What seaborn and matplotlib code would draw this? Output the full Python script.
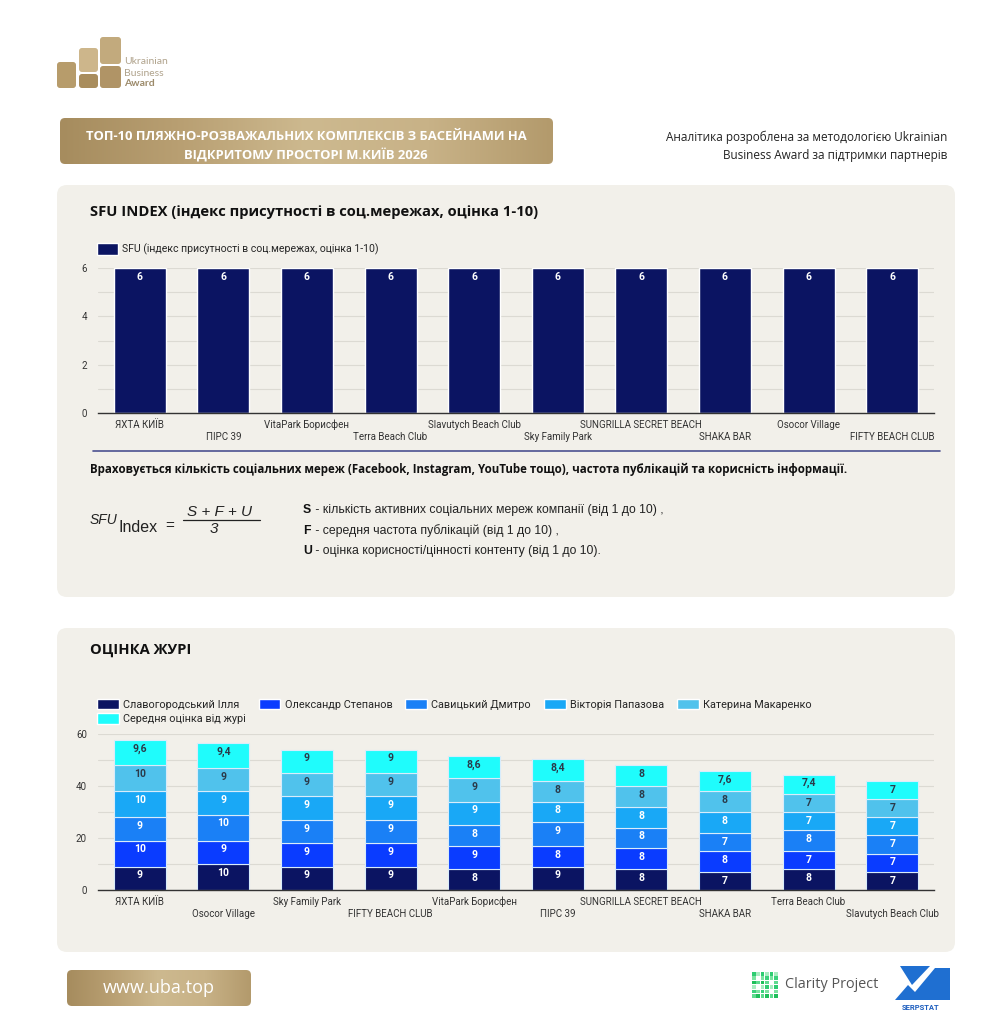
import numpy as np
import pandas as pd
import matplotlib.pyplot as plt
import seaborn as sns
from matplotlib.patches import FancyBboxPatch, Rectangle, Patch, Polygon
from matplotlib.lines import Line2D
from matplotlib.colors import LinearSegmentedColormap

# ---- data ----
sfu_names = ["ЯХТА КИЇВ", "ПІРС 39", "VitaPark Борисфен", "Terra Beach Club",
             "Slavutych Beach Club", "Sky Family Park", "SUNGRILLA SECRET BEACH",
             "SHAKA BAR", "Osocor Village", "FIFTY BEACH CLUB"]
sfu_values = [6, 6, 6, 6, 6, 6, 6, 6, 6, 6]
sfu_label = "SFU (індекс присутності в соц.мережах, оцінка 1-10)"

jury_names = ["ЯХТА КИЇВ", "Osocor Village", "Sky Family Park", "FIFTY BEACH CLUB",
              "VitaPark Борисфен", "ПІРС 39", "SUNGRILLA SECRET BEACH", "SHAKA BAR",
              "Terra Beach Club", "Slavutych Beach Club"]
jurors = ["Славогородський Ілля", "Олександр Степанов", "Савицький Дмитро",
          "Вікторія Папазова", "Катерина Макаренко", "Середня оцінка від журі"]
slavohorodskyi = [9, 10, 9, 9, 8, 9, 8, 7, 8, 7]
stepanov = [10, 9, 9, 9, 9, 8, 8, 8, 7, 7]
savytskyi = [9, 10, 9, 9, 8, 9, 8, 7, 8, 7]
papazova = [10, 9, 9, 9, 9, 8, 8, 8, 7, 7]
makarenko = [10, 9, 9, 9, 9, 8, 8, 8, 7, 7]
average = [9.6, 9.4, 9, 9, 8.6, 8.4, 8, 7.6, 7.4, 7]

juror_colors = ["#0b1462", "#0a3cff", "#1a80f6", "#19a8f6", "#50c2ec", "#1ffcfc"]
label_colors = ["white", "white", "white", "white", "#2b3a4a", "#2b3a4a"]
navy = "#0b1462"
panel_bg = "#f2f0ea"
grid_c = "#dcdad3"

W, H = 1004, 1024
fig = plt.figure(figsize=(W / 100, H / 100), dpi=100, facecolor="white")
sns.set_style("white")
plt.rcParams["font.family"] = ["Roboto", "DejaVu Sans"]

# background layer in pixel coordinates
bg = fig.add_axes([0, 0, 1, 1], zorder=0)
bg.set_xlim(0, W)
bg.set_ylim(H, 0)
bg.axis("off")

gold_cmap = LinearSegmentedColormap.from_list(
    "gold", ["#a68c5e", "#b9a073", "#cdb98f", "#c8b287", "#b39a6c"])


def gold_box(x0, y0, x1, y1, r):
    box = FancyBboxPatch((x0, y0), x1 - x0, y1 - y0,
                         boxstyle=f"round,pad=0,rounding_size={r}",
                         facecolor="none", edgecolor="none")
    bg.add_patch(box)
    grad = np.vstack([np.linspace(0, 1, 256)] * 2)
    im = bg.imshow(grad, cmap=gold_cmap, extent=[x0, x1, y1, y0], aspect="auto", zorder=1)
    im.set_clip_path(box)


# panels
for y0, y1 in [(185, 597), (628, 952)]:
    bg.add_patch(FancyBboxPatch((57, y0), 898, y1 - y0,
                                boxstyle="round,pad=0,rounding_size=10",
                                facecolor=panel_bg, edgecolor="none", zorder=0.5))

# logo
logo_parts = [
    (57, 62, 19, 26, "#b79c6b"),
    (79, 48, 19, 24, "#cdb68b"),
    (79, 74, 19, 14, "#a98d5d"),
    (100, 37, 21, 27, "#c2aa7d"),
    (100, 66, 21, 22, "#b09466"),
]
for x, y, w, h, c in logo_parts:
    bg.add_patch(FancyBboxPatch((x, y), w, h, boxstyle="round,pad=0,rounding_size=3",
                                facecolor=c, edgecolor="none", zorder=1))
bg.text(124, 62, "Ukrainian", fontsize=7.5, color="#b0a38c", va="center", family="Lato")
bg.text(124, 73, "Business", fontsize=7.5, color="#b0a38c", va="center", family="Lato")
bg.text(124, 84, "Award", fontsize=7.5, color="#9c8a6a", va="center",
        fontweight="bold", family="Lato")

# header
gold_box(60, 118, 553, 164, 5)
bg.text(306, 137, "ТОП-10 ПЛЯЖНО-РОЗВАЖАЛЬНИХ КОМПЛЕКСІВ З БАСЕЙНАМИ НА",
        ha="center", va="center", color="white", fontsize=9.4, fontweight="bold",
        family="Open Sans", zorder=3)
bg.text(306, 155, "ВІДКРИТОМУ ПРОСТОРІ М.КИЇВ 2026",
        ha="center", va="center", color="white", fontsize=9.4, fontweight="bold",
        family="Open Sans", zorder=3)
bg.text(947, 137, "Аналітика розроблена за методологією Ukrainian", ha="right",
        va="center", fontsize=8.5, color="#222222", family="Open Sans")
bg.text(947, 155, "Business Award за підтримки партнерів", ha="right",
        va="center", fontsize=8.5, color="#222222", family="Open Sans")

# panel 1 texts
bg.text(90, 212, "SFU INDEX (індекс присутності в соц.мережах, оцінка 1-10)",
        fontsize=10.6, fontweight="bold", va="center", color="#111111", family="Open Sans")
bg.add_line(Line2D([93, 940], [451, 451], color="#4c5190", lw=1.2, zorder=2))
bg.text(90, 469, "Враховується кількість соціальних мереж (Facebook, Instagram, YouTube тощо), "
        "частота публікацій та корисність інформації.",
        fontsize=8.3, fontweight="bold", va="center", color="#111111", family="Open Sans")

# formula
ff = "Liberation Sans"
bg.text(90, 520, "SFU", fontsize=10, style="italic", va="center", family=ff, color="#222")
bg.text(119, 528, "Index", fontsize=11.5, va="center", family=ff, color="#222")
bg.text(170, 526, "=", fontsize=11, va="center", ha="center", family=ff, color="#222")
bg.text(220, 512, "S + F + U", fontsize=11, style="italic", va="center", ha="center",
        family=ff, color="#222")
bg.add_line(Line2D([183, 260], [520, 520], color="#222", lw=0.9))
bg.text(214, 529, "3", fontsize=11, style="italic", va="center", ha="center",
        family=ff, color="#222")
expl = [("S", " - кількість активних соціальних мереж компанії (від 1 до 10) ,", 510),
        ("F", " - середня частота публікацій (від 1 до 10) ,", 531),
        ("U", " - оцінка корисності/цінності контенту (від 1 до 10).", 551)]
for letter, rest, y in expl:
    bg.text(303, y, letter, fontsize=8.8, fontweight="bold", va="center", family=ff, color="#111")
    bg.text(312, y, rest, fontsize=8.8, va="center", family=ff, color="#222")

# panel 2 title
bg.text(90, 650, "ОЦІНКА ЖУРІ", fontsize=10.6, fontweight="bold", va="center",
        color="#111111", family="Open Sans")

# footer
gold_box(67, 970, 251, 1006, 5)
bg.text(159, 988, "www.uba.top", ha="center", va="center", color="white", fontsize=13,
        family="Open Sans", zorder=3)
greens = ["#2ecc71", "#7be3a0", "#1fbf5a", "#a8edc0", "#3ad17a", "#5edb8f"]
for i in range(6):
    for j in range(6):
        if j in (1, 4) and 1 <= i <= 4 and (i + j) % 2 == 0:
            continue
        bg.add_patch(Rectangle((752 + j * 4.4, 972 + i * 4.4), 3.6, 3.6,
                               facecolor=greens[(i * 7 + j * 3) % 6], edgecolor="none"))
bg.text(785, 985, "Clarity Project", fontsize=10.4, va="center", color="#555555",
        family="Open Sans")
bg.add_patch(Polygon([[895, 1000], [908, 985], [915, 992], [935, 968], [950, 968],
                      [950, 1000]], closed=True, facecolor="#1f6fd1", edgecolor="none"))
bg.add_patch(Polygon([[900, 966], [930, 966], [912, 985]], closed=True,
                     facecolor="#1f6fd1", edgecolor="none"))
bg.text(921, 1007, "SERPSTAT", fontsize=5.5, fontweight="bold", ha="center", va="center",
        color="#1f5fbf", family="Roboto")


def px_axes(x0, y0, x1, y1):
    return fig.add_axes([x0 / W, 1 - y1 / H, (x1 - x0) / W, (y1 - y0) / H], zorder=2)


# ---- SFU chart ----
sfu_df = pd.DataFrame({"name": sfu_names, "sfu": sfu_values})
ax1 = px_axes(98, 268, 934, 413)
ax1.set_facecolor("none")
sns.barplot(data=sfu_df, x="name", y="sfu", color=navy, saturation=1, width=0.62, ax=ax1)
ax1.bar_label(ax1.containers[0], padding=-10, color="white", fontsize=7.5, fontweight="bold")
ax1.set_ylim(0, 6)
ax1.set_xlim(-0.5, len(sfu_names) - 0.5)
ax1.set_yticks([0, 2, 4, 6])
ax1.set_yticks([1, 3, 5], minor=True)
ax1.grid(axis="y", which="both", color=grid_c, lw=0.8)
ax1.set_axisbelow(True)
ax1.set_xticks(range(len(sfu_names)))
ax1.set_xticklabels([n if i % 2 == 0 else "\n" + n for i, n in enumerate(sfu_names)])

# ---- jury chart ----
jury_df = pd.DataFrame({"name": jury_names, jurors[0]: slavohorodskyi, jurors[1]: stepanov,
                        jurors[2]: savytskyi, jurors[3]: papazova, jurors[4]: makarenko,
                        jurors[5]: average})
ax2 = px_axes(98, 734, 934, 890)
ax2.set_facecolor("none")
bottom = np.zeros(len(jury_names))
for jr, c, lc in zip(jurors, juror_colors, label_colors):
    sns.barplot(data=jury_df, x="name", y=jr, color=c, saturation=1, width=0.62,
                bottom=bottom, edgecolor="#d8ecfb", linewidth=0.8, ax=ax2)
    labels = [f"{v:g}".replace(".", ",") for v in jury_df[jr]]
    ax2.bar_label(ax2.containers[-1], labels=labels, padding=-10, color=lc,
                  fontsize=7.5, fontweight="bold")
    bottom = bottom + jury_df[jr].to_numpy()
ax2.set_ylim(0, 60)
ax2.set_xlim(-0.5, len(jury_names) - 0.5)
ax2.set_yticks([0, 20, 40, 60])
ax2.set_yticks([10, 30, 50], minor=True)
ax2.grid(axis="y", which="both", color=grid_c, lw=0.8)
ax2.set_axisbelow(True)
ax2.set_xticks(range(len(jury_names)))
ax2.set_xticklabels([n if i % 2 == 0 else "\n" + n for i, n in enumerate(jury_names)])

for ax in (ax1, ax2):
    ax.set_xlabel("")
    ax.set_ylabel("")
    for s in ("top", "right", "left"):
        ax.spines[s].set_visible(False)
    ax.spines["bottom"].set_color("#333333")
    ax.spines["bottom"].set_linewidth(1)
    ax.tick_params(axis="both", which="both", length=0, labelsize=7, colors="#333333")
    ax.tick_params(axis="x", pad=5)
    ax.tick_params(axis="y", pad=8)

# legends
fig.legend(handles=[Patch(facecolor=navy, label=sfu_label)], loc="upper left",
           bbox_to_anchor=(97 / W, 1 - 243 / H), frameon=False, fontsize=7.6,
           borderaxespad=0, borderpad=0, handlelength=2.0, handleheight=1.3,
           handletextpad=0.4)
handles = [Patch(facecolor=c, label=j) for j, c in zip(jurors, juror_colors)]
order = [0, 5, 1, 2, 3, 4]
fig.legend(handles=[handles[i] for i in order], loc="upper left", ncol=5,
           bbox_to_anchor=(97 / W, 1 - 699 / H), frameon=False, fontsize=7.8,
           borderaxespad=0, borderpad=0, handlelength=2.0, handleheight=1.1,
           handletextpad=0.4, columnspacing=1.2, labelspacing=0.3)

fig.savefig("out.png", dpi=100, facecolor="white")
